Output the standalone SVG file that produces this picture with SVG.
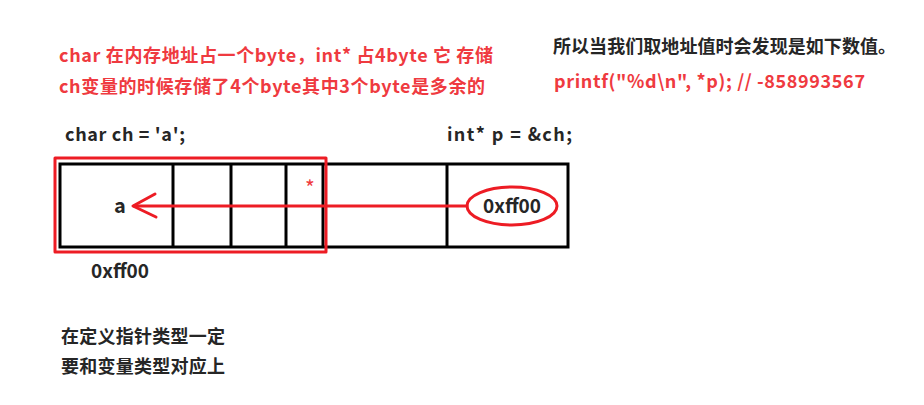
<svg xmlns="http://www.w3.org/2000/svg" width="924" height="405" viewBox="0 0 924 405">
<style>
text{font-family:"Open Sans","Noto Sans CJK SC",sans-serif;font-weight:bold;font-size:18px}
.red{fill:#ef3a40}
.dark{fill:#262626}
.cjk{font-family:"Noto Sans CJK SC","Open Sans",sans-serif}
.cell{fill:none;stroke:#000;stroke-width:3}
.rl{fill:none;stroke:#ed1c24;stroke-width:3;stroke-linecap:round;stroke-linejoin:round}
</style>
<rect width="924" height="405" fill="#fff"/>
<g id="note-top">
<text class="red cjk" x="59" y="62" textLength="434">char 在内存地址占一个byte，int* 占4byte 它 存储</text>
<text class="red cjk" x="59" y="93" textLength="426">ch变量的时候存储了4个byte其中3个byte是多余的</text>
</g>
<g id="note-right">
<text class="dark cjk" x="553" y="53" textLength="343">所以当我们取地址值时会发现是如下数值。</text>
<text class="red cjk" x="554" y="88" textLength="311">printf("%d\n", *p); // -858993567</text>
</g>
<g id="decl-ch"><text class="dark cjk" x="65" y="141" textLength="120">char ch = 'a';</text></g>
<g id="decl-p"><text class="dark cjk" x="447" y="141" textLength="125">int* p = &amp;ch;</text></g>
<g id="memory">
<rect class="cell" x="60" y="164" width="508" height="83"/>
<line class="cell" x1="173" y1="164" x2="173" y2="247"/>
<line class="cell" x1="231" y1="164" x2="231" y2="247"/>
<line class="cell" x1="286" y1="164" x2="286" y2="247"/>
<line class="cell" x1="323" y1="164" x2="323" y2="247"/>
<line class="cell" x1="447" y1="164" x2="447" y2="247"/>
<text class="dark cjk" x="120" y="213" text-anchor="middle" style="font-size:20px">a</text>
<text class="red cjk" x="310" y="196" text-anchor="middle" style="font-size:21px;font-weight:normal">*</text>
</g>
<g id="char-bytes"><rect class="rl" x="55" y="158" width="271" height="94" stroke-linecap="butt" stroke-linejoin="miter"/></g>
<g id="pointer-value">
<ellipse class="rl" cx="512" cy="206" rx="45" ry="19"/>
<text class="dark cjk" x="483" y="213" textLength="58" style="font-size:19px">0xff00</text>
</g>
<g id="connectors">
<line class="rl" x1="467" y1="206" x2="134" y2="206"/>
<polyline class="rl" points="155,194 133,206 156,217"/>
</g>
<g id="addr"><text class="dark cjk" x="91" y="278" textLength="58" style="font-size:19px">0xff00</text></g>
<g id="note-bottom">
<text class="dark cjk" x="61" y="343" textLength="164">在定义指针类型一定</text>
<text class="dark cjk" x="61" y="373" textLength="164">要和变量类型对应上</text>
</g>
</svg>
